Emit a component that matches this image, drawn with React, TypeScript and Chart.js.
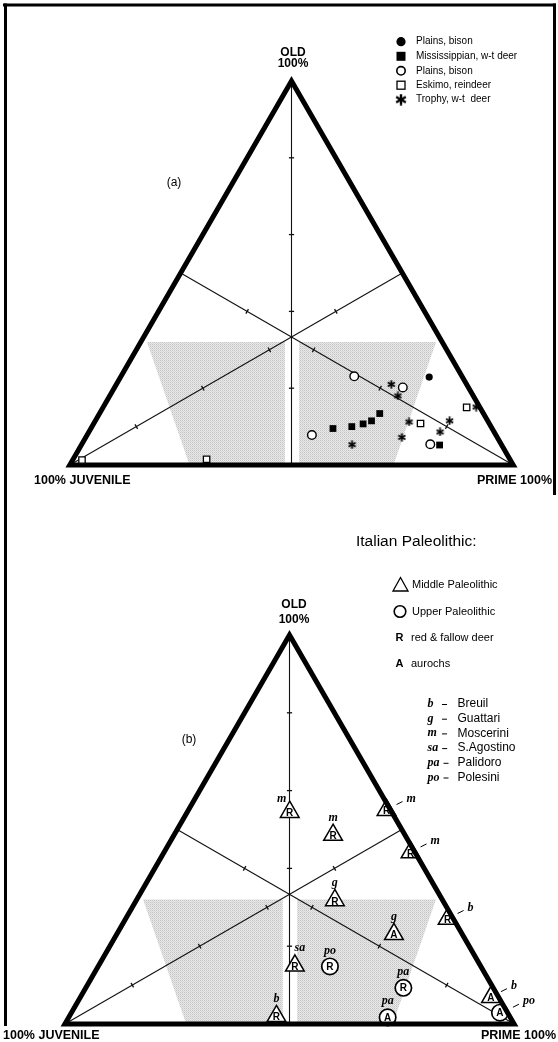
import React, { useEffect, useRef } from 'react';
import { Chart, registerables } from 'chart.js';

Chart.register(...registerables);

// Every composition is [juvenile %, prime %, old %].

// (a) ethnographic and archaeological reference samples
const plainsBisonSolid = [[7.5, 69.6, 22.9]];
const mississippianDeer = [
  [35.9, 54.6, 9.5], [31.4, 58.6, 10.0], [28.5, 60.8, 10.7],
  [26.2, 62.3, 11.5], [23.4, 63.2, 13.4], [14.0, 80.8, 5.2],
];
const plainsBisonOpen = [[24.3, 52.6, 23.1], [14.8, 65.0, 20.2], [41.5, 50.7, 7.8], [16.0, 78.6, 5.4]];
const eskimoReindeer = [[15.5, 73.7, 10.8], [3.0, 82.0, 15.0], [68.4, 30.1, 1.5], [96.6, 2.1, 1.3]];
const trophyDeer = [
  [17.0, 62.0, 21.0], [17.0, 65.0, 18.0], [17.9, 70.9, 11.2], [21.5, 71.3, 7.2],
  [33.7, 61.0, 5.3], [12.2, 79.2, 8.6], [8.6, 79.9, 11.5], [0.8, 84.1, 15.1],
];
const seriesNamesA = ['Plains, bison', 'Mississippian, w-t deer', 'Plains, bison', 'Eskimo, reindeer', 'Trophy, w-t  deer'];

// (b) Italian Paleolithic assemblages
const middlePaleo = [
  [22.7, 22.8, 54.5], [16.0, 35.4, 48.6], [0.9, 44.1, 55.0], [1.0, 54.9, 44.1], [24.0, 44.2, 31.8],
  [1.3, 71.7, 27.0], [15.2, 61.7, 23.1], [41.3, 43.7, 15.0], [51.9, 46.1, 2.0], [1.7, 91.4, 6.9],
];
const middlePaleoTaxa = ['R', 'R', 'R', 'R', 'R', 'R', 'A', 'R', 'R', 'A'];
const middlePaleoSites = ['m', 'm', 'm', 'm', 'g', 'b', 'g', 'sa', 'b', 'b'];
const upperPaleo = [[33.6, 51.6, 14.8], [20.0, 70.7, 9.3], [27.3, 71.0, 1.7], [1.7, 95.4, 2.9]];
const upperPaleoTaxa = ['R', 'R', 'A', 'A'];
const upperPaleoSites = ['po', 'pa', 'pa', 'po'];

const siteCodes = ['b', 'g', 'm', 'sa', 'pa', 'po'];
const siteNames = ['Breuil', 'Guattari', 'Moscerini', 'S.Agostino', 'Palidoro', 'Polesini'];
const periodNames = ['Middle Paleolithic', 'Upper Paleolithic'];
const taxonCodes = ['R', 'A'];
const taxonNames = ['red & fallow deer', 'aurochs'];

// tick marks on each median: value of that median's own vertex component
const medianTicks = [80, 60, 40, 20];

// shaded zone, two panels split along the OLD median
const shadeLeft = [[66.6, 1.4, 32], [35.5, 32.5, 32], [51.5, 48.5, 0], [73, 27, 0]];
const shadeRight = [[32.3, 35.7, 32], [1.4, 66.6, 32], [27, 73, 0], [48.3, 51.7, 0]];

// ---------------------------------------------------------------------------

const SANS = '"Liberation Sans", Arial, Helvetica, sans-serif';
const SERIF = '"Liberation Serif", "Times New Roman", serif';
const H = Math.sqrt(3) / 2;
const V_JUV = [100, 0, 0];
const V_PRIME = [0, 100, 0];
const V_OLD = [0, 0, 100];

const toXY = (t: number[]) => ({ x: t[1] + t[2] / 2, y: t[2] * H });
const mix = (a: number[], b: number[], f: number) => a.map((v, i) => v + (b[i] - v) * f);

function tp(chart: any, t: number[]) {
  const p = toXY(t);
  return { x: chart.scales.x.getPixelForValue(p.x), y: chart.scales.y.getPixelForValue(p.y) };
}

function makeAsterisk(size: number, lw: number) {
  const c = document.createElement('canvas');
  c.width = size;
  c.height = size;
  const g = c.getContext('2d')!;
  const r = size / 2 - 0.4;
  g.strokeStyle = '#000';
  g.lineWidth = lw;
  for (const deg of [90, 30, 150]) {
    const a = (deg * Math.PI) / 180;
    g.beginPath();
    g.moveTo(size / 2 + Math.cos(a) * r, size / 2 - Math.sin(a) * r);
    g.lineTo(size / 2 - Math.cos(a) * r, size / 2 + Math.sin(a) * r);
    g.stroke();
  }
  return c;
}

function makeStipple(ctx: CanvasRenderingContext2D) {
  const c = document.createElement('canvas');
  c.width = 2;
  c.height = 2;
  const g = c.getContext('2d')!;
  g.fillStyle = '#e8e8e8';
  g.fillRect(0, 0, 2, 2);
  g.fillStyle = '#c4c4c4';
  g.fillRect(0, 0, 1, 1);
  g.fillStyle = '#d6d6d6';
  g.fillRect(1, 1, 1, 1);
  return ctx.createPattern(c, 'repeat')!;
}

function label(ctx: CanvasRenderingContext2D, s: string, x: number, y: number, font: string, align: CanvasTextAlign = 'left') {
  ctx.font = font;
  ctx.textAlign = align;
  ctx.textBaseline = 'middle';
  ctx.fillStyle = '#000';
  ctx.fillText(s, x, y);
}

function line(ctx: CanvasRenderingContext2D, x1: number, y1: number, x2: number, y2: number, w: number) {
  ctx.lineWidth = w;
  ctx.beginPath();
  ctx.moveTo(x1, y1);
  ctx.lineTo(x2, y2);
  ctx.stroke();
}

function drawFramework(chart: any) {
  const ctx: CanvasRenderingContext2D = chart.ctx;
  ctx.save();
  ctx.fillStyle = makeStipple(ctx);
  for (const poly of [shadeLeft, shadeRight]) {
    ctx.beginPath();
    poly.forEach((t, i) => {
      const p = tp(chart, t);
      if (i) ctx.lineTo(p.x, p.y);
      else ctx.moveTo(p.x, p.y);
    });
    ctx.closePath();
    ctx.fill();
  }
  ctx.strokeStyle = '#111';
  const medians = [
    [V_OLD, [50, 50, 0]],
    [V_JUV, [0, 50, 50]],
    [V_PRIME, [50, 0, 50]],
  ];
  for (const [a, b] of medians) {
    const pa = tp(chart, a);
    const pb = tp(chart, b);
    line(ctx, pa.x, pa.y, pb.x, pb.y, 1.1);
    const len = Math.hypot(pb.x - pa.x, pb.y - pa.y);
    const nx = -(pb.y - pa.y) / len;
    const ny = (pb.x - pa.x) / len;
    for (const v of medianTicks) {
      const q = tp(chart, mix(a, b, 1 - v / 100));
      line(ctx, q.x - nx * 2.6, q.y - ny * 2.6, q.x + nx * 2.6, q.y + ny * 2.6, 1.3);
    }
  }
  ctx.restore();
}

function drawOutline(chart: any) {
  const ctx: CanvasRenderingContext2D = chart.ctx;
  const a = tp(chart, V_OLD);
  const b = tp(chart, V_JUV);
  const c = tp(chart, V_PRIME);
  ctx.save();
  ctx.strokeStyle = '#000';
  ctx.lineWidth = 5;
  ctx.lineJoin = 'miter';
  ctx.beginPath();
  ctx.moveTo(a.x, a.y);
  ctx.lineTo(b.x, b.y);
  ctx.lineTo(c.x, c.y);
  ctx.closePath();
  ctx.stroke();
  ctx.restore();
}

const baseOptions = (padding: any) => ({
  responsive: false,
  maintainAspectRatio: false,
  animation: false as const,
  devicePixelRatio: 1,
  events: [] as any[],
  layout: { padding },
  scales: {
    x: { type: 'linear' as const, min: 0, max: 100, display: false },
    y: { type: 'linear' as const, min: 0, max: 100 * H, display: false },
  },
  plugins: { legend: { display: false }, tooltip: { enabled: false } },
});

function configA(): any {
  const star = makeAsterisk(9, 1.8);
  const bigStar = makeAsterisk(12, 2.4);
  const pts = (arr: number[][]) => arr.map(toXY);
  const datasets = [
    { label: seriesNamesA[0], data: pts(plainsBisonSolid), pointStyle: 'circle', pointRadius: 3.6, backgroundColor: '#000', borderColor: '#000', borderWidth: 0 },
    { label: seriesNamesA[1], data: pts(mississippianDeer), pointStyle: 'rect', pointRadius: 4.8, backgroundColor: '#000', borderColor: '#000', borderWidth: 0 },
    { label: seriesNamesA[2], data: pts(plainsBisonOpen), pointStyle: 'circle', pointRadius: 4.3, backgroundColor: '#fff', borderColor: '#000', borderWidth: 1.4 },
    { label: seriesNamesA[3], data: pts(eskimoReindeer), pointStyle: 'rect', pointRadius: 4.5, backgroundColor: '#fff', borderColor: '#000', borderWidth: 1.3 },
    { label: seriesNamesA[4], data: pts(trophyDeer), pointStyle: star, pointRadius: 4.5, backgroundColor: '#000', borderColor: '#000' },
  ].map((d) => ({ ...d, showLine: false, clip: false }));

  const deco = {
    id: 'panelA',
    beforeDatasetsDraw(chart: any) {
      drawFramework(chart);
      drawOutline(chart);
    },
    afterDatasetsDraw(chart: any) {
      const ctx: CanvasRenderingContext2D = chart.ctx;
      ctx.save();
      ctx.strokeStyle = '#000';
      // page frame
      line(ctx, 3, 5, 556, 5, 3);
      line(ctx, 5.5, 3.5, 5.5, 520, 3);
      line(ctx, 554.5, 3.5, 554.5, 495, 3);

      label(ctx, 'OLD', 293, 53, `bold 12px ${SANS}`, 'center');
      label(ctx, '100%', 293, 64, `bold 12px ${SANS}`, 'center');
      label(ctx, '100% JUVENILE', 34, 481, `bold 12.5px ${SANS}`, 'left');
      label(ctx, 'PRIME 100%', 552, 481, `bold 12.5px ${SANS}`, 'right');
      label(ctx, '(a)', 174, 183, `12px ${SANS}`, 'center');

      // key
      const kx = 401;
      const ky = [41.7, 56.3, 70.8, 85.2, 99.6];
      ctx.fillStyle = '#000';
      ctx.beginPath();
      ctx.arc(kx, ky[0], 4.6, 0, Math.PI * 2);
      ctx.fill();
      ctx.fillRect(kx - 4.5, ky[1] - 4.5, 9, 9);
      ctx.lineWidth = 1.6;
      ctx.beginPath();
      ctx.arc(kx, ky[2], 4.2, 0, Math.PI * 2);
      ctx.stroke();
      ctx.lineWidth = 1.3;
      ctx.strokeRect(kx - 4, ky[3] - 4, 8, 8);
      ctx.drawImage(bigStar, kx - 6, ky[4] - 6);
      chart.data.datasets.forEach((d: any, i: number) => {
        label(ctx, d.label, 416, ky[i], `10px ${SANS}`, 'left');
      });
      ctx.restore();
    },
  };

  return {
    type: 'scatter',
    data: { datasets },
    options: baseOptions({ left: 69.8, right: 44.8, top: 81, bottom: 55 }),
    plugins: [deco],
  };
}

// how each site tag sits against its symbol
const middleTagPlacement = ['aboveLeft', 'above', 'leader', 'leader', 'above', 'leader', 'above', 'aboveRight', 'above', 'leader'];
const upperTagPlacement = ['above', 'above', 'above', 'leader'];

function configB(): any {
  const pts = (arr: number[][]) => arr.map(toXY);
  const datasets = [
    { label: periodNames[0], data: pts(middlePaleo), pointStyle: 'triangle', pointRadius: 10.8, backgroundColor: '#fff', borderColor: '#000', borderWidth: 1.5 },
    { label: periodNames[1], data: pts(upperPaleo), pointStyle: 'circle', pointRadius: 8.2, backgroundColor: '#fff', borderColor: '#000', borderWidth: 1.7 },
  ].map((d) => ({ ...d, showLine: false, clip: false }));

  const tags = [
    { taxa: middlePaleoTaxa, sites: middlePaleoSites, place: middleTagPlacement, dy: 1.5, lead: 10 },
    { taxa: upperPaleoTaxa, sites: upperPaleoSites, place: upperTagPlacement, dy: 0.5, lead: 13 },
  ];

  const deco = {
    id: 'panelB',
    beforeDatasetsDraw(chart: any) {
      drawFramework(chart);
    },
    afterDatasetsDraw(chart: any) {
      drawOutline(chart);
      const ctx: CanvasRenderingContext2D = chart.ctx;
      ctx.save();
      ctx.strokeStyle = '#000';
      line(ctx, 5.5, 0, 5.5, 506, 3);

      tags.forEach((g, di) => {
        chart.getDatasetMeta(di).data.forEach((el: any, j: number) => {
          const { x, y } = el;
          label(ctx, g.taxa[j], x, y + g.dy, `bold 10px ${SANS}`, 'center');
          const f = `bold italic 12px ${SERIF}`;
          const s = g.sites[j];
          const p = g.place[j];
          if (p === 'above') label(ctx, s, x, y - (di ? 16 : 17.5), f, 'center');
          else if (p === 'aboveLeft') label(ctx, s, x - 8, y - 13, f, 'center');
          else if (p === 'aboveRight') label(ctx, s, x + 5, y - 18, f, 'center');
          else {
            line(ctx, x + g.lead, y - 5.5, x + g.lead + 6, y - 8.5, 1);
            label(ctx, s, x + g.lead + 10, y - 11.5, f, 'left');
          }
        });
      });

      label(ctx, 'OLD', 294, 85, `bold 12px ${SANS}`, 'center');
      label(ctx, '100%', 294, 99.5, `bold 12px ${SANS}`, 'center');
      label(ctx, '100% JUVENILE', 3, 516, `bold 12.5px ${SANS}`, 'left');
      label(ctx, 'PRIME 100%', 556, 516, `bold 12.5px ${SANS}`, 'right');
      label(ctx, '(b)', 189, 219.5, `12px ${SANS}`, 'center');

      // key
      label(ctx, 'Italian Paleolithic:', 356, 22, `15.5px ${SANS}`, 'left');
      ctx.fillStyle = '#fff';
      ctx.lineWidth = 1.3;
      ctx.beginPath();
      ctx.moveTo(400.5, 57.5);
      ctx.lineTo(408, 71);
      ctx.lineTo(393, 71);
      ctx.closePath();
      ctx.stroke();
      ctx.lineWidth = 1.6;
      ctx.beginPath();
      ctx.arc(400, 91.5, 5.8, 0, Math.PI * 2);
      ctx.stroke();
      label(ctx, periodNames[0], 412, 64.5, `11px ${SANS}`, 'left');
      label(ctx, periodNames[1], 412, 91.7, `11px ${SANS}`, 'left');
      taxonCodes.forEach((c, i) => {
        const yy = 117.7 + i * 25.8;
        label(ctx, c, 399.5, yy, `bold 11px ${SANS}`, 'center');
        label(ctx, taxonNames[i], 411, yy, `11px ${SANS}`, 'left');
      });
      siteCodes.forEach((c, i) => {
        const yy = 184 + i * 14.7;
        ctx.font = `bold italic 12px ${SERIF}`;
        const w = ctx.measureText(c).width;
        label(ctx, c, 427.5, yy, ctx.font, 'left');
        const dx = Math.max(442, 427.5 + w + 4);
        line(ctx, dx, yy + 0.5, dx + 5, yy + 0.5, 1);
        label(ctx, siteNames[i], 457.5, yy, `12px ${SANS}`, 'left');
      });
      ctx.restore();
    },
  };

  return {
    type: 'scatter',
    data: { datasets },
    options: baseOptions({ left: 64.9, right: 43.9, top: 115, bottom: 18 }),
    plugins: [deco],
  };
}

export default function App() {
  const refA = useRef<HTMLCanvasElement>(null);
  const refB = useRef<HTMLCanvasElement>(null);

  useEffect(() => {
    const a = new Chart(refA.current!, configA());
    const b = new Chart(refB.current!, configB());
    return () => {
      a.destroy();
      b.destroy();
    };
  }, []);

  return (
    <div style={{ position: 'absolute', left: 0, top: 0, width: 558, height: 1042, background: '#fff', overflow: 'hidden' }}>
      <canvas ref={refA} width={558} height={520} style={{ position: 'absolute', left: 0, top: 0, width: 558, height: 520 }} />
      <canvas ref={refB} width={558} height={522} style={{ position: 'absolute', left: 0, top: 520, width: 558, height: 522 }} />
    </div>
  );
}
